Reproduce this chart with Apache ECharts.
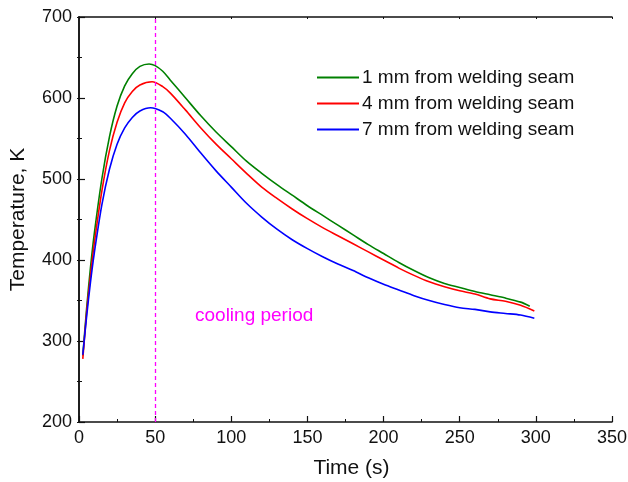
<!DOCTYPE html>
<html><head><meta charset="utf-8">
<script src="https://cdn.jsdelivr.net/npm/echarts@6/dist/echarts.min.js"></script>
<style>html,body{margin:0;padding:0;background:#fff}#c{width:628px;height:482px}</style>
</head><body><div id="c"></div>
<script>
const seriesNames = ['1 mm from welding seam', '4 mm from welding seam', '7 mm from welding seam'];
const seriesColors = ['#008000', '#ff0000', '#0000ff'];
const tGreen = [2.5,5,7.5,10,15,20,25,30,35,40,46,50,55,60,70,80,90,100,110,120,130,140,150,160,170,180,190,200,210,220,230,240,250,260,270,280,290,296];
const vGreen = [282,340,390,432,500,552,590,615,630,639,642,640,633,622,600,578,558,540,522,507,493,480,467,455,443,431,419,408,397,387,378,371,366,361,357,353,348,343];
const tRed = [2.5,5,7.5,10,15,20,25,30,35,40,48,55,60,70,80,90,100,110,120,130,140,150,160,170,180,190,200,210,220,230,240,250,260,270,280,290,299];
const vRed = [278,335,380,420,485,535,570,594,608,616,620,614,606,585,563,543,525,507,490,476,463,451,440,430,420,410,400,390,381,373,367,362,358,352,349,344,337];
const tBlue = [2.5,5,7.5,10,15,20,25,30,35,40,47,55,60,70,80,90,100,110,120,130,140,150,160,170,180,190,200,210,220,230,240,250,260,270,280,290,299];
const vBlue = [283,330,372,408,468,512,543,563,576,584,588,583,575,555,532,510,490,470,453,438,425,414,404,395,387,378,370,363,356,350,345,341,339,336,334,332,328];
const coolingX = 50;
const annotation = 'cooling period';
const xTitle = 'Time (s)';
const yTitle = 'Temperature, K';

const zip = (t, v) => t.map((x, i) => [x, v[i]]);
const allT = [tGreen, tRed, tBlue];
const allV = [vGreen, vRed, vBlue];

const font = 'Liberation Sans, Arial, sans-serif';
const axisCommon = {
  axisLine: {show: true, lineStyle: {color: '#111', width: 1.5}},
  axisTick: {show: true, inside: true, length: 6, lineStyle: {color: '#111', width: 1.2}},
  minorTick: {show: true, splitNumber: 2, length: 3, lineStyle: {color: '#111', width: 1}},
  splitLine: {show: false}
};

const chart = echarts.init(document.getElementById('c'), null, {renderer: 'canvas'});
const series = seriesNames.map((n, i) => ({
  name: n, type: 'line', data: zip(allT[i], allV[i]), showSymbol: false, smooth: 0.3,
  lineStyle: {color: seriesColors[i], width: 1.6}, itemStyle: {color: seriesColors[i]},
  xAxisIndex: 0, yAxisIndex: 0, z: 3
}));
series[0].markLine = {
  silent: true, symbol: 'none', label: {show: false},
  lineStyle: {color: '#ff00ff', type: [4, 3], width: 1.3},
  data: [{xAxis: coolingX}]
};
chart.setOption({
  animation: false,
  backgroundColor: '#fff',
  grid: {left: 79, right: 16, top: 17, bottom: 60, containLabel: false, outerBoundsMode: 'none'},
  legend: {
    orient: 'vertical', left: 312, top: 63, itemGap: 7, itemWidth: 42, itemHeight: 2,
    icon: 'rect',
    textStyle: {fontFamily: font, fontSize: 19, color: '#111', padding: [0, 0, 0, -2]},
    data: seriesNames.map((n, i) => ({name: n, itemStyle: {color: seriesColors[i]}}))
  },
  xAxis: [
    Object.assign({}, axisCommon, {
      type: 'value', min: 0, max: 350, interval: 50, position: 'bottom',
      name: xTitle, nameLocation: 'middle', nameGap: 36,
      nameTextStyle: {fontFamily: font, fontSize: 21, color: '#111', padding: [0, 0, 0, 12]},
      axisLabel: {fontFamily: font, fontSize: 18, color: '#111', margin: 7}
    }),
    Object.assign({}, axisCommon, {
      type: 'value', min: 0, max: 350, interval: 50, position: 'top',
      axisTick: {show: true, inside: true, length: 2, lineStyle: {color: '#111'}},
      minorTick: {show: false}, axisLabel: {show: false}
    })
  ],
  yAxis: [
    Object.assign({}, axisCommon, {
      type: 'value', min: 200, max: 700, interval: 100, position: 'left',
      name: yTitle, nameLocation: 'middle', nameGap: 50, nameRotate: 90,
      nameTextStyle: {fontFamily: font, fontSize: 21, color: '#111'},
      axisLabel: {fontFamily: font, fontSize: 18, color: '#111', margin: 7}
    }),
    Object.assign({}, axisCommon, {
      type: 'value', min: 200, max: 700, interval: 50, position: 'right',
      axisTick: {show: true, inside: true, length: 2, lineStyle: {color: '#111'}},
      minorTick: {show: false}, axisLabel: {show: false}
    })
  ],
  graphic: [{
    type: 'text', x: 195, y: 316,
    style: {text: annotation, fill: '#ff00ff', font: '19px Liberation Sans, Arial, sans-serif', textVerticalAlign: 'middle'}
  }],
  series: series
});
</script></body></html>
